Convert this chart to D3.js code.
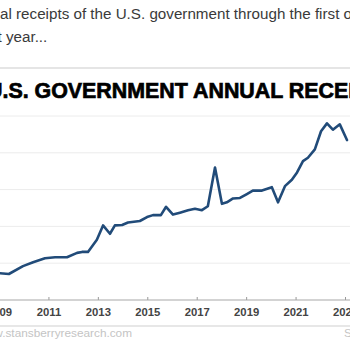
<!DOCTYPE html>
<html>
<head>
<meta charset="utf-8">
<script src="https://cdn.jsdelivr.net/npm/d3@7"></script>
<style>
  html, body { margin: 0; padding: 0; background: #fff; overflow: hidden; }
  svg { display: block; }
</style>
</head>
<body>
<script>
// ---- Data (trailing-12-month receipts, $ trillions) ----
const years = [2008.96, 2009.40, 2009.97, 2010.38, 2010.86, 2011.27, 2011.75, 2012.16, 2012.36, 2012.60,
  2012.96, 2013.21, 2013.49, 2013.69, 2013.98, 2014.22, 2014.70, 2014.99, 2015.23, 2015.55,
  2015.76, 2016.04, 2016.32, 2016.65, 2016.93, 2017.21, 2017.45, 2017.74, 2018.02, 2018.22,
  2018.47, 2018.75, 2019.03, 2019.27, 2019.64, 2020.04, 2020.29, 2020.57, 2020.85, 2021.06,
  2021.30, 2021.50, 2021.78, 2022.03, 2022.27, 2022.51, 2022.79, 2023.08];
const receipts = [2.05, 2.03, 2.19, 2.27, 2.35, 2.37, 2.37, 2.46, 2.48, 2.48,
  2.73, 3.02, 2.85, 3.02, 3.03, 3.08, 3.11, 3.19, 3.23, 3.23,
  3.40, 3.24, 3.28, 3.33, 3.36, 3.33, 3.41, 4.20, 3.46, 3.49,
  3.57, 3.58, 3.66, 3.73, 3.73, 3.80, 3.49, 3.82, 3.95, 4.10,
  4.33, 4.40, 4.57, 4.94, 5.10, 4.97, 5.08, 4.76];
const xTickYears = [2009, 2011, 2013, 2015, 2017, 2019, 2021, 2023];
const yGridValues = [1.5, 2.25, 3.0, 3.75, 4.5, 5.25];

const introLine1 = "al receipts of the U.S. government through the first o";
const introLine2 = "t year...";
const titleText = "U.S. GOVERNMENT ANNUAL RECEIPTS";
const footerText = "www.stansberryresearch.com";
const sourceText = "Source: U.S. Treasury";

// ---- Layout ----
const W = 350, H = 350;
const FONT = "'Liberation Sans', Arial, sans-serif";
const svg = d3.select("body").append("svg").attr("width", W).attr("height", H);
svg.append("rect").attr("width", W).attr("height", H).attr("fill", "#fff");

const x = d3.scaleLinear().domain([2009, 2023]).range([-1, 345]);
const y = d3.scaleLinear().domain([1.5, 5.25]).range([300, 116]);

// intro text
const intro = svg.append("g").attr("font-family", FONT)
  .attr("font-size", 15.2).attr("fill", "#3a3a3a");
intro.append("text").attr("x", 0).attr("y", 18.5).text(introLine1);
intro.append("text").attr("x", -2.5).attr("y", 42).text(introLine2);

// separator
svg.append("line").attr("x1", 0).attr("x2", W).attr("y1", 68).attr("y2", 68)
  .attr("stroke", "#dcdcdc").attr("stroke-width", 1.5);

// title
svg.append("text")
  .attr("font-family", FONT)
  .attr("font-weight", "bold").attr("font-size", 21.4)
  .attr("fill", "#000").attr("stroke", "#000").attr("stroke-width", 0.7)
  .attr("x", -13).attr("y", 97.5).text(titleText);

// gridlines
svg.append("g").selectAll("line").data(yGridValues.slice(1)).join("line")
  .attr("x1", 0).attr("x2", W)
  .attr("y1", d => y(d)).attr("y2", d => y(d))
  .attr("stroke", "#ececec").attr("stroke-width", 1);

// x axis
const xAxis = d3.axisBottom(x).tickValues(xTickYears).tickFormat(d3.format("d"))
  .tickSizeInner(-3).tickSizeOuter(0).tickPadding(8);
const gx = svg.append("g").attr("transform", `translate(0,${y(1.5)})`).call(xAxis);
gx.select(".domain").remove();
gx.append("line").attr("x1", 0).attr("x2", W).attr("y1", 0).attr("y2", 0)
  .attr("stroke", "#a8a8a8").attr("stroke-width", 1.2);
gx.selectAll(".tick line").attr("stroke", "#999");
gx.selectAll(".tick text")
  .attr("font-family", FONT)
  .attr("font-weight", "bold").attr("font-size", 11.3).attr("fill", "#444");

// data line
const data = years.map((t, i) => ({ t, v: receipts[i] }));
svg.append("path").datum(data)
  .attr("fill", "none").attr("stroke", "#214b79").attr("stroke-width", 2.6)
  .attr("stroke-linejoin", "round").attr("stroke-linecap", "round")
  .attr("d", d3.line().x(d => x(d.t)).y(d => y(d.v)));

// footer
svg.append("line").attr("x1", 0).attr("x2", W).attr("y1", 326).attr("y2", 326)
  .attr("stroke", "#d0d0d0").attr("stroke-width", 1.2);
svg.append("text").attr("x", 132).attr("y", 337).attr("text-anchor", "end")
  .attr("font-family", FONT).attr("font-size", 11.8)
  .attr("fill", "#c4c4c4").text(footerText);
svg.append("text").attr("x", 344).attr("y", 337)
  .attr("font-family", FONT).attr("font-size", 11.8)
  .attr("fill", "#c4c4c4").text(sourceText);
</script>
</body>
</html>
